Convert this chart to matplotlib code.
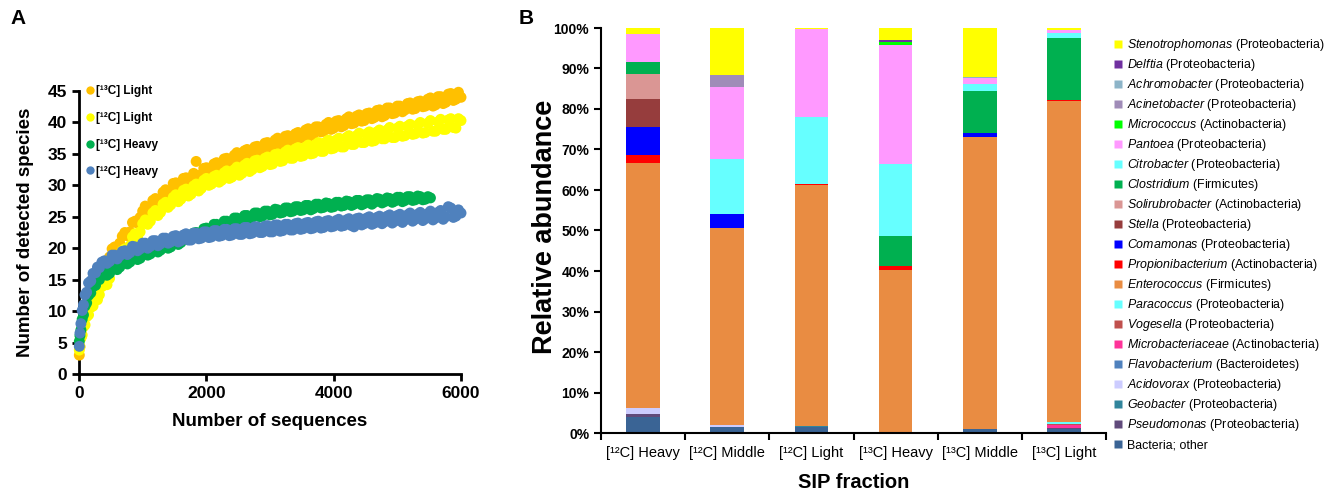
import matplotlib
matplotlib.use('Agg')
import matplotlib.pyplot as plt
from matplotlib.lines import Line2D
from matplotlib.ticker import FuncFormatter, MultipleLocator

plt.rcParams['font.family'] = ['Liberation Sans', 'DejaVu Sans']
plt.rcParams['mathtext.fontset'] = 'custom'
plt.rcParams['mathtext.rm'] = 'Liberation Sans'
plt.rcParams['mathtext.it'] = 'Liberation Sans:italic'

# ---- panel A: rarefaction curves ----
seq_early = [5, 15, 30, 50, 70, 95, 120, 150, 185, 220, 260, 290]
seq_main = list(range(320, 6001, 80))
sequences = seq_early + seq_main
sequences_b = list(range(360, 6001, 80))   # second read-off pass, in between

light13 = [3.0, 4.3, 5.8, 7.6, 8.7, 10.6, 11.2, 12.8, 13.2, 14.7, 15.1, 16.3,
           16.4, 17.9, 18.6, 20.2, 20.8, 22.5, 22.6, 24.3, 24.9, 26.7, 26.2, 27.9,
           27.6, 29.3, 28.9, 30.4, 29.8, 31.2, 30.6, 33.8, 31.7, 32.8, 32.1, 33.6,
           32.9, 34.3, 33.6, 35.2, 34.3, 35.7, 34.9, 36.2, 35.5, 36.8, 36.0, 37.5,
           36.8, 37.9, 37.2, 38.4, 37.7, 39.0, 38.1, 39.3, 38.6, 40.0, 39.1, 40.3,
           39.5, 40.9, 39.9, 41.2, 40.3, 41.5, 40.8, 42.0, 41.1, 42.3, 41.5, 42.6,
           42.0, 43.1, 42.2, 43.4, 42.6, 43.9, 42.8, 44.1, 43.2, 44.6, 43.7, 44.0]
light13_b = [17.3, 17.6, 19.9, 20.1, 21.9, 22.0, 24.1, 24.0, 25.9, 25.8,
             27.6, 27.2, 28.9, 28.6, 30.3, 29.7, 31.1, 30.4, 31.9, 31.3,
             32.7, 32.0, 33.4, 32.8, 34.2, 33.5, 34.8, 34.1, 35.5, 34.7,
             36.1, 35.2, 36.7, 35.9, 37.2, 36.5, 37.8, 37.0, 38.2, 37.5,
             38.8, 37.9, 39.3, 38.5, 39.7, 38.9, 40.2, 39.3, 40.6, 39.8,
             41.0, 40.2, 41.4, 40.6, 41.9, 40.9, 42.3, 41.4, 42.6, 41.7,
             43.0, 42.1, 43.3, 42.5, 43.7, 42.6, 44.1, 43.0, 44.5, 43.5, 44.8]
light12 = [3.8, 4.4, 5.7, 6.2, 7.5, 7.8, 9.1, 9.4, 10.6, 10.8, 11.9, 11.8,
           12.6, 14.3, 15.2, 17.4, 18.1, 19.9, 20.4, 22.3, 22.6, 24.5, 24.3, 26.0,
           25.7, 27.3, 26.9, 28.5, 27.8, 29.4, 28.6, 30.2, 29.5, 31.1, 30.2, 31.6,
           30.8, 32.3, 31.3, 32.9, 31.9, 33.5, 32.5, 34.0, 33.0, 34.5, 33.4, 35.0,
           33.9, 35.6, 34.3, 36.0, 34.7, 36.4, 35.1, 36.8, 35.4, 37.2, 35.9, 37.5,
           36.1, 37.9, 36.5, 38.3, 36.8, 38.5, 37.1, 38.8, 37.4, 39.2, 37.6, 39.4,
           37.9, 39.7, 38.2, 40.0, 38.4, 40.3, 38.6, 40.5, 38.9, 40.6, 39.1, 40.3]
light12_b = [13.9, 14.2, 16.9, 17.1, 19.6, 19.5, 21.8, 21.7, 23.9, 23.8,
             25.6, 25.2, 27.0, 26.5, 28.1, 27.4, 29.2, 28.3, 29.9, 29.1,
             30.8, 30.0, 31.4, 30.5, 32.0, 31.1, 32.5, 31.6, 33.2, 32.2,
             33.9, 32.8, 34.3, 33.3, 34.9, 33.8, 35.3, 34.3, 35.8, 34.6,
             36.1, 35.0, 36.5, 35.4, 36.9, 35.8, 37.2, 36.1, 37.6, 36.5,
             37.9, 36.8, 38.2, 37.0, 38.5, 37.4, 38.8, 37.6, 39.1, 37.8,
             39.4, 38.1, 39.6, 38.3, 39.9, 38.6, 40.1, 38.9, 40.4, 39.2, 40.6]
heavy13 = [5.2, 6.1, 7.0, 8.7, 9.4, 10.8, 11.3, 12.5, 12.9, 13.9, 14.1, 15.0,
           15.0, 16.1, 16.0, 17.1, 17.0, 17.9, 17.8, 18.6, 18.4, 19.3, 19.1, 19.9,
           19.7, 20.5, 20.2, 21.1, 20.9, 21.8, 21.6, 22.5, 22.3, 23.2, 22.9, 23.8,
           23.5, 24.3, 24.0, 24.8, 24.4, 25.2, 24.9, 25.6, 25.1, 25.9, 25.4, 26.1,
           25.7, 26.4, 25.9, 26.6, 26.1, 26.8, 26.3, 27.0, 26.5, 27.1, 26.6, 27.3,
           26.8, 27.4, 27.0, 27.6, 27.1, 27.7, 27.3, 27.8, 27.4, 27.9, 27.5, 28.1,
           27.6, 28.2, 27.7, 28.2, 27.8, 28.0]
heavy13_b = [15.8, 15.7, 16.9, 16.6, 17.8, 17.5, 18.6, 18.2, 19.3, 18.9,
             19.9, 19.4, 20.5, 20.0, 21.1, 20.6, 21.7, 21.4, 22.4, 22.0,
             23.1, 22.7, 23.8, 23.3, 24.3, 23.8, 24.8, 24.3, 25.2, 24.7,
             25.6, 25.0, 25.9, 25.3, 26.2, 25.6, 26.4, 25.8, 26.6, 26.0,
             26.8, 26.1, 27.0, 26.4, 27.2, 26.5, 27.3, 26.7, 27.5, 26.8,
             27.6, 26.9, 27.7, 27.0, 27.9, 27.2, 28.0, 27.3, 28.1, 27.4,
             28.2, 27.6, 28.3, 27.7, 28.2]
heavy12 = [4.4, 6.5, 8.0, 10.1, 11.0, 12.6, 13.0, 14.5, 14.8, 16.0, 16.1, 17.0,
           16.9, 18.0, 17.9, 18.9, 18.8, 19.6, 19.3, 20.2, 19.9, 20.8, 20.3, 21.2,
           20.7, 21.6, 21.0, 22.0, 21.2, 22.3, 21.3, 22.4, 21.6, 22.6, 21.8, 22.8,
           22.0, 23.0, 22.1, 23.1, 22.2, 23.3, 22.4, 23.4, 22.5, 23.6, 22.6, 23.7,
           22.8, 23.8, 22.9, 24.0, 23.1, 24.1, 23.2, 24.3, 23.3, 24.4, 23.5, 24.6,
           23.6, 24.7, 23.4, 24.8, 23.9, 25.0, 24.0, 25.1, 24.2, 25.3, 24.3, 25.4,
           24.5, 25.6, 24.6, 25.7, 24.7, 25.9, 24.8, 26.0, 25.0, 26.4, 25.1, 25.6]
heavy12_b = [17.8, 17.6, 18.9, 18.3, 19.5, 19.0, 20.3, 19.6, 20.8, 20.0,
             21.2, 20.4, 21.6, 20.8, 21.9, 21.0, 22.1, 21.3, 22.4, 21.5,
             22.6, 21.7, 22.8, 21.9, 23.0, 22.0, 23.1, 22.2, 23.3, 22.3,
             23.4, 22.5, 23.5, 22.6, 23.7, 22.7, 23.8, 22.9, 23.9, 23.0,
             24.0, 23.1, 24.2, 23.2, 24.3, 23.4, 24.4, 23.5, 24.5, 23.6,
             24.7, 23.7, 24.8, 23.8, 24.9, 23.9, 25.1, 24.0, 25.2, 24.1,
             25.3, 24.3, 25.4, 24.4, 25.5, 24.5, 25.7, 24.6, 26.6, 24.9, 26.1]

curve_labels = ['[¹³C] Light', '[¹²C] Light', '[¹³C] Heavy', '[¹²C] Heavy']
curve_colors = ['#FFC000', '#FFFF00', '#00B050', '#4F81BD']

# ---- panel B: community composition ----
fractions = ['[¹²C] Heavy', '[¹²C] Middle', '[¹²C] Light',
             '[¹³C] Heavy', '[¹³C] Middle', '[¹³C] Light']

# stacked from bottom to top
taxa = [
    ('Bacteria; other', None, '#3A6495', [4.0, 1.5, 1.5, 0.0, 0.9, 1.0]),
    ('Pseudomonas', 'Proteobacteria', '#604A7B', [0.7, 0, 0, 0, 0, 0.2]),
    ('Geobacter', 'Proteobacteria', '#31859C', [0, 0, 0.2, 0, 0, 0]),
    ('Acidovorax', 'Proteobacteria', '#CCCCFF', [1.5, 0.4, 0, 0, 0, 0]),
    ('Flavobacterium', 'Bacteroidetes', '#4F81BD', [0, 0, 0, 0, 0, 0]),
    ('Microbacteriaceae', 'Actinobacteria', '#FF3399', [0, 0, 0, 0, 0, 0.8]),
    ('Vogesella', 'Proteobacteria', '#C0504D', [0, 0, 0, 0, 0, 0.3]),
    ('Paracoccus', 'Proteobacteria', '#66FFFF', [0, 0, 0, 0, 0, 0.3]),
    ('Enterococcus', 'Firmicutes', '#E98C42', [60.5, 48.8, 59.5, 40.2, 72.3, 79.3]),
    ('Propionibacterium', 'Actinobacteria', '#FF0000', [1.9, 0, 0.3, 1.0, 0, 0.4]),
    ('Comamonas', 'Proteobacteria', '#0000FF', [6.9, 3.4, 0, 0, 0.9, 0]),
    ('Stella', 'Proteobacteria', '#963D3D', [6.9, 0, 0, 0, 0, 0]),
    ('Solirubrobacter', 'Actinobacteria', '#DA9694', [6.3, 0, 0, 0, 0, 0]),
    ('Clostridium', 'Firmicutes', '#00B050', [2.9, 0, 0, 7.4, 10.4, 15.3]),
    ('Citrobacter', 'Proteobacteria', '#66FFFF', [0, 13.5, 16.5, 17.9, 1.6, 1.2]),
    ('Pantoea', 'Proteobacteria', '#FF99FF', [6.9, 17.8, 21.8, 29.4, 1.6, 0.8]),
    ('Micrococcus', 'Actinobacteria', '#00FF00', [0, 0, 0, 0.7, 0, 0]),
    ('Acinetobacter', 'Proteobacteria', '#A08CB8', [0, 2.9, 0, 0, 0, 0]),
    ('Achromobacter', 'Proteobacteria', '#8DB4C8', [0, 0, 0, 0, 0.2, 0]),
    ('Delftia', 'Proteobacteria', '#7030A0', [0, 0, 0, 0.5, 0, 0]),
    ('Stenotrophomonas', 'Proteobacteria', '#FFFF00', [1.5, 11.7, 0.2, 2.9, 12.1, 0.4]),
]

fig = plt.figure(figsize=(13.32, 4.9), dpi=100)

# Panel A
axA = fig.add_axes([79 / 1332, 1 - 374 / 490, 382 / 1332, 283 / 490])
series = [(light13, light13_b), (light12, light12_b), (heavy13, heavy13_b), (heavy12, heavy12_b)]
for (ys, ys_b), c in zip(series, curve_colors):
    axA.scatter(sequences[:len(ys)], ys, s=62, color=c, edgecolors='none', clip_on=False, zorder=3)
    axA.scatter(sequences_b[:len(ys_b)], ys_b, s=62, color=c, edgecolors='none', clip_on=False, zorder=3)

axA.set_xlim(0, 6000)
axA.set_ylim(0, 45)
axA.xaxis.set_major_locator(MultipleLocator(2000))
axA.yaxis.set_major_locator(MultipleLocator(5))
for side in ['top', 'right']:
    axA.spines[side].set_visible(False)
for side in ['left', 'bottom']:
    axA.spines[side].set_linewidth(2)
axA.tick_params(direction='out', width=2, length=5, labelsize=12.5)
for lab in axA.get_xticklabels() + axA.get_yticklabels():
    lab.set_fontweight('bold')
axA.set_xlabel('Number of sequences', fontsize=13.5, fontweight='bold', labelpad=9)
axA.set_ylabel('Number of detected species', fontsize=13.5, fontweight='bold', labelpad=10)

handlesA = [Line2D([], [], marker='o', linestyle='none', markersize=6,
                   markerfacecolor=c, markeredgecolor='none') for c in curve_colors]
axA.legend(handlesA, curve_labels, loc='upper left', bbox_to_anchor=(0.0, 1.045),
           frameon=False, handlelength=0.6, handletextpad=0.2, labelspacing=1.25,
           borderaxespad=0.2, prop={'size': 8.5, 'weight': 'bold'})

fig.text(10 / 1332, 1 - 18 / 490, 'A', fontsize=15, fontweight='bold', va='center')

# Panel B
axB = fig.add_axes([601 / 1332, 1 - 433 / 490, 505 / 1332, 405 / 490])
pos = list(range(len(fractions)))
bottom = [0.0] * len(fractions)
leg_colors = []
leg_labels = []
for name, phylum, color, vals in taxa:
    axB.bar(pos, vals, bottom=bottom, width=0.4, color=color, edgecolor='none', zorder=2)
    bottom = [b + v for b, v in zip(bottom, vals)]
    leg_colors.append(color)
    if phylum is None:
        leg_labels.append(name)
    else:
        leg_labels.append(r'$\mathit{' + name + '}$ (' + phylum + ')')

axB.set_xlim(-0.5, len(fractions) - 0.5)
axB.set_ylim(0, 100)
axB.yaxis.set_major_locator(MultipleLocator(10))
axB.yaxis.set_major_formatter(FuncFormatter(lambda v, p: '%d%%' % v))
axB.set_xticks([p - 0.5 for p in pos] + [len(fractions) - 0.5])
axB.set_xticklabels([])
axB.set_xticks(pos, minor=True)
axB.set_xticklabels(fractions, minor=True, fontsize=10.5)
axB.tick_params(axis='x', which='minor', length=0, pad=9)
axB.tick_params(axis='x', which='major', direction='out', length=5, width=1.5)
axB.tick_params(axis='y', direction='out', length=5, width=1.5, labelsize=10)
for lab in axB.get_yticklabels():
    lab.set_fontweight('bold')
for side in ['top', 'right']:
    axB.spines[side].set_visible(False)
for side in ['left', 'bottom']:
    axB.spines[side].set_linewidth(1.5)
axB.set_xlabel('SIP fraction', fontsize=14.5, fontweight='bold', labelpad=10)
axB.set_ylabel('Relative abundance', fontsize=19.5, fontweight='bold')
axB.yaxis.set_label_coords(-0.085, 0.51)

fig.text(519 / 1332, 1 - 18 / 490, 'B', fontsize=15, fontweight='bold', va='center')

# legend for panel B, top entry first
for i, (color, lab) in enumerate(zip(leg_colors[::-1], leg_labels[::-1])):
    yc = 44 + 20 * i
    fig.add_artist(Line2D([1118 / 1332], [1 - yc / 490], transform=fig.transFigure,
                          marker='s', markersize=5.5, linestyle='none',
                          markerfacecolor=color, markeredgecolor='none'))
    fig.text(1127 / 1332, 1 - (yc + 4.3) / 490, lab, fontsize=8.9, va='baseline', ha='left')

fig.savefig('out.png', dpi=100)
